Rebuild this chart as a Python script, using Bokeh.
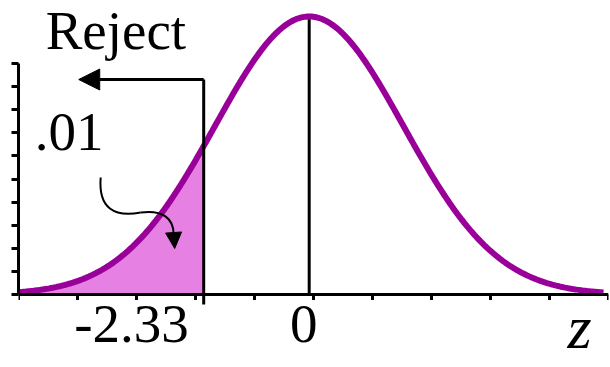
import numpy as np
from bokeh.plotting import figure
from bokeh.models import Range1d, FixedTicker, Arrow, NormalHead, Label, CustomJSTickFormatter
from bokeh.embed import file_html
from bokeh.resources import INLINE

# One-sided test: lower-tail rejection region of the z distribution
z_crit = -2.33
z_center = 0.0
alpha_text = ".01"
crit_text = "-2.33"
center_text = "0"
axis_name = "z"
region_text = "Reject"

# spread used to draw the bell shape along the z axis
curve_sd = 2.08
x_lo, x_hi = -6.42, 6.61
curve_hi = 6.5
n_div = 10

PURPLE = "#990099"
PINK = "#E680E2"
SERIF = "Liberation Serif"


def bell(x):
    return np.exp(-0.5 * (x / curve_sd) ** 2) / (curve_sd * np.sqrt(2 * np.pi))


peak = bell(0.0)
k = peak / 278                   # data units per vertical pixel
y_hi = 294 * k                   # headroom above the peak
y_lo = -73 * k                   # room below the baseline for the z labels
y_axis_top = 231 * k             # left axis stops short of the curve top

p = figure(width=610, height=367, output_backend="svg", toolbar_location=None,
           x_range=Range1d(x_lo, x_hi), y_range=Range1d(y_lo, y_hi),
           min_border_left=18, min_border_right=2, min_border_top=0,
           min_border_bottom=0, x_axis_location=None)
p.outline_line_color = None
p.xgrid.visible = False
p.ygrid.visible = False
p.background_fill_color = "white"
p.border_fill_color = "white"

# vertical axis: ticks only, no numbers
ya = p.yaxis[0]
ya.ticker = FixedTicker(ticks=list(np.linspace(0, y_axis_top, n_div + 1)))
ya.bounds = (0, y_axis_top)
ya.formatter = CustomJSTickFormatter(code="return ''")
ya.axis_line_width = 3
ya.axis_line_color = "black"
ya.major_tick_line_width = 3
ya.major_tick_in = 0
ya.major_tick_out = 7
ya.minor_tick_line_color = None

# horizontal z axis along the baseline
x_ticks = np.linspace(x_lo, x_hi, n_div + 1)
p.segment(x0=x_ticks, y0=[0] * len(x_ticks), x1=x_ticks, y1=[-5.5 * k] * len(x_ticks),
          line_color="black", line_width=3)

# shaded tail area
xt = np.linspace(x_lo, z_crit, 200)
p.varea(x=xt, y1=0, y2=bell(xt), fill_color=PINK)

# line at the mean
p.segment(x0=[z_center], y0=[0], x1=[z_center], y1=[peak], line_color="black", line_width=3)

# bell curve
xc = np.linspace(x_lo, curve_hi, 400)
p.line(xc, bell(xc), line_color=PURPLE, line_width=6)

p.line([x_lo, x_hi], [0, 0], line_color="black", line_width=3)

# critical value line with arrow pointing into the rejection region
arrow_y = 215 * k
p.line([z_crit, z_crit], [-10 * k, arrow_y], line_color="black", line_width=3)
p.add_layout(Arrow(x_start=z_crit, y_start=arrow_y, x_end=-5.09, y_end=arrow_y,
                   line_color="black", line_width=3,
                   end=NormalHead(size=21, fill_color="black", line_color="black")))

# curled pointer from the area label to the shaded tail
p.bezier(x0=[-4.605, -3.721], y0=[117 * k, 82 * k],
         x1=[-3.721, -2.992], y1=[82 * k, 60 * k],
         cx0=[-4.66, -3.235], cy0=[86 * k, 85 * k],
         cx1=[-4.30, -2.993], cy1=[77 * k, 76 * k],
         line_color="black", line_width=2)
p.add_layout(Arrow(x_start=-2.992, y_start=60 * k, x_end=-2.970, y_end=46 * k,
                   line_color="black", line_width=2,
                   end=NormalHead(size=16, fill_color="black", line_color="black")))


# texts
def label(x, y_px, text, size_px, align="left", style="normal"):
    # y_px: height of the text baseline above the z axis, in pixels
    lift = 0.39 * size_px
    p.add_layout(Label(x=x, y=(y_px + lift) * k, text=text, text_font=SERIF,
                       text_font_size=f"{size_px}px", text_font_style=style,
                       text_align=align, text_baseline="alphabetic",
                       text_color="black"))


label(-5.82, 243, region_text, 55)
label(-6.06, 141, alpha_text, 55)
label(z_crit - 0.33, -51, crit_text, 55, align="right")
label(z_center - 0.12, -51, center_text, 55, align="center")
label(5.97, -57, axis_name, 62, align="center", style="italic")

open("out.html", "w").write(file_html(p, INLINE))
